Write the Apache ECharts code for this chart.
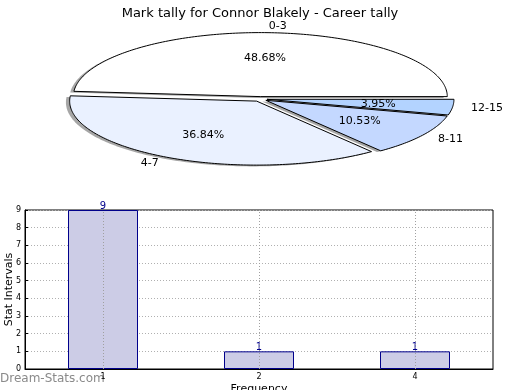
<!DOCTYPE html>
<html><head><meta charset="utf-8">
<script src="https://cdn.jsdelivr.net/npm/echarts@6/dist/echarts.min.js"></script>
<style>html,body{margin:0;padding:0;background:#fff}#c{width:520px;height:390px}</style>
</head><body><div id="c"></div>
<script>
var pieLabels = ['0-3', '4-7', '8-11', '12-15'];
var pieValues = [37, 28, 8, 3];
var pieColors = ['#ffffff', '#eaf1ff', '#c4d8ff', '#b3d3ff'];
var barCategories = ['1', '2', '4'];
var barValues = [9, 1, 1];
var yTicks = [0, 1, 2, 3, 4, 5, 6, 7, 8, 9];

var FONT = 'DejaVu Sans';
var CX = 260, CY = 99, RX = 187, RY = 64, EXPLODE = 0.0375;
var total = pieValues.reduce(function (a, b) { return a + b; }, 0);

function wedgePoints(ox, oy, a1, a2) {
  var pts = [[ox, oy]];
  var n = Math.max(4, Math.ceil((a2 - a1) / (Math.PI / 180)));
  for (var j = 0; j <= n; j++) {
    var a = a1 + (a2 - a1) * j / n;
    pts.push([ox + Math.cos(a) * RX, oy - Math.sin(a) * RY]);
  }
  return pts;
}

function renderSlice(params, api) {
  var i = params.dataIndex;
  var v = api.value(0);
  var before = 0;
  for (var k = 0; k < i; k++) before += pieValues[k];
  var a1 = before / total * 2 * Math.PI;
  var a2 = (before + v) / total * 2 * Math.PI;
  var mid = (a1 + a2) / 2;
  var c = Math.cos(mid), s = Math.sin(mid);
  var ox = CX + c * EXPLODE * RX, oy = CY - s * EXPLODE * RY;
  var lf = 1.1 + EXPLODE, pf = 0.6 + EXPLODE;
  var pct = (v / total * 100).toFixed(2) + '%';
  return {
    type: 'group',
    children: [
      { type: 'polygon', shape: { points: wedgePoints(ox - 0.02 * RX, oy + 0.02 * RY, a1, a2) }, z2: 0,
        style: { fill: 'rgba(77,77,77,0.5)', stroke: 'none' } },
      { type: 'polygon', shape: { points: wedgePoints(ox, oy, a1, a2) }, z2: 10,
        style: { fill: pieColors[i], stroke: '#000', lineWidth: 1, lineJoin: 'miter' } },
      { type: 'text', z2: 20, x: CX + c * pf * RX, y: CY - s * pf * RY,
        style: { text: pct, font: '11px "' + FONT + '"', fill: '#000', align: 'center', verticalAlign: 'middle' } },
      { type: 'text', z2: 20, x: CX + c * lf * RX, y: CY - s * lf * RY,
        style: { text: pieLabels[i], font: '11px "' + FONT + '"', fill: '#000', align: c >= 0 ? 'left' : 'right', verticalAlign: 'middle' } }
    ]
  };
}

var chart = echarts.init(document.getElementById('c'), null, { renderer: 'canvas' });
chart.setOption({
  animation: false,
  backgroundColor: '#fff',
  textStyle: { fontFamily: FONT },
  title: { text: 'Mark tally for Connor Blakely - Career tally', left: 'center', top: 2,
    textStyle: { fontSize: 13, fontWeight: 'normal', color: '#000', fontFamily: FONT } },
  graphic: [{ type: 'text', left: 0, top: 373,
    style: { text: 'Dream-Stats.com', font: '12px "' + FONT + '"', fill: '#8a8a8a' } }],
  grid: { left: 25, right: 27, top: 210, bottom: 21, show: true, borderColor: '#000', borderWidth: 1,
    containLabel: false, outerBoundsMode: 'none' },
  xAxis: {
    type: 'category', data: barCategories, boundaryGap: true,
    name: 'Frequency', nameLocation: 'middle', nameGap: 15, nameMoveOverlap: false,
    nameTextStyle: { fontSize: 11, color: '#000', fontFamily: FONT },
    axisLine: { lineStyle: { color: '#000' } },
    axisTick: { show: false },
    axisLabel: { fontSize: 8, color: '#000', margin: 4, fontFamily: FONT },
    splitLine: { show: false }
  },
  yAxis: {
    type: 'value', min: yTicks[0], max: yTicks[yTicks.length - 1], interval: 1,
    name: 'Stat Intervals', nameLocation: 'middle', nameGap: 10, nameMoveOverlap: false,
    nameTextStyle: { fontSize: 11, color: '#000', fontFamily: FONT },
    axisLine: { show: true, lineStyle: { color: '#000' } },
    axisTick: { show: true, inside: true, length: 3, lineStyle: { color: '#000' } },
    axisLabel: { fontSize: 8, color: '#000', margin: 4, fontFamily: FONT },
    splitLine: { show: true, lineStyle: { color: '#b0b0b0', type: [1, 2], width: 1 } }
  },
  series: [
    { type: 'custom', coordinateSystem: 'none', renderItem: renderSlice,
      data: pieValues.map(function (v) { return [v]; }), silent: true, z: 1 },
    { type: 'bar', data: barValues, barWidth: 70, z: 2,
      itemStyle: { color: '#ccccE6', borderColor: '#00008b', borderWidth: 1 },
      label: { show: true, position: 'top', distance: -1, color: '#00008b', fontSize: 10, fontFamily: FONT },
      markLine: { silent: true, symbol: 'none', label: { show: false },
        lineStyle: { color: '#a0a0a0', type: [1, 2], width: 1 },
        data: barCategories.map(function (c) { return { xAxis: c }; }) } }
  ]
});
</script></body></html>
